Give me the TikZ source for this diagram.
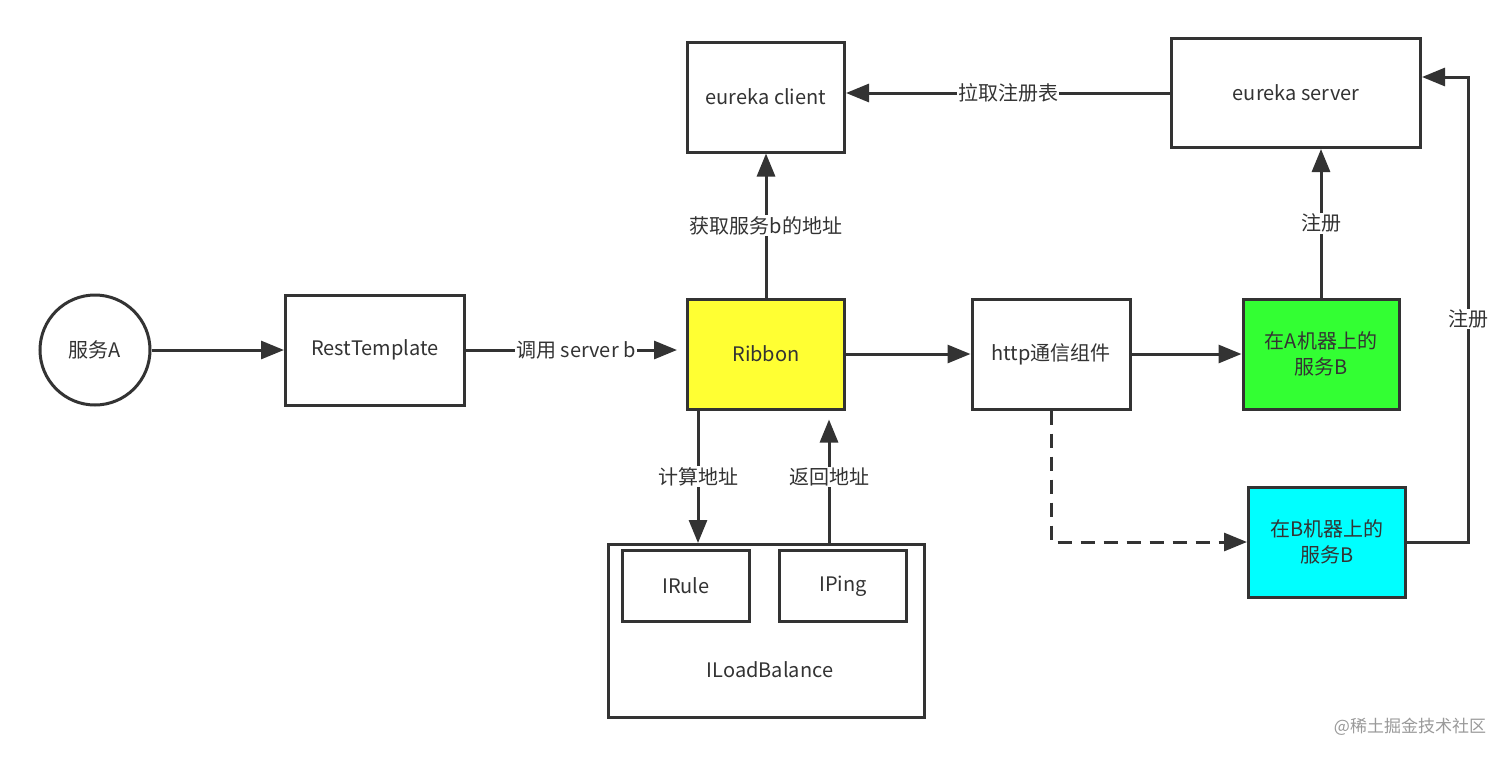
\documentclass[tikz,border=0pt]{standalone}
\usepackage{fontspec}
\setmainfont{Noto Sans CJK SC}
\usetikzlibrary{arrows.meta}
\definecolor{edgegray}{HTML}{333333}
\definecolor{ribyellow}{HTML}{FFFF33}
\definecolor{agreen}{HTML}{33FF33}
\definecolor{bcyan}{HTML}{00FFFF}

\begin{document}
\begin{tikzpicture}[x=1pt, y=-1pt,
  box/.style={draw=edgegray, line width=3pt, fill=white, inner sep=0pt,
    align=center, text=black!80, font=\fontsize{20}{26}\selectfont},
  link/.style={draw=edgegray, line width=3pt,
    -{Triangle[length=23pt, width=18pt]}},
  lbl/.style={fill=white, inner sep=1pt, text=black!80,
    font=\fontsize{20}{24}\selectfont}]
  \useasboundingbox (0,0) rectangle (1512,758);

  % nodes
  \node[box, circle, minimum size=110pt] (svcA) at (95,350) {服务A};
  \node[box, minimum width=179pt, minimum height=110pt] (rest) at (375,350) {RestTemplate};
  \node[box, fill=ribyellow, minimum width=157pt, minimum height=110pt] (rib) at (766,354) {Ribbon};
  \node[box, minimum width=157pt, minimum height=110pt] (cli) at (766,97) {eureka client};
  \node[box, minimum width=249pt, minimum height=109pt] (srv) at (1296,93) {eureka server};
  \node[box, minimum width=158pt, minimum height=110pt] (http) at (1051,354) {http通信组件};
  \node[box, fill=agreen, minimum width=156pt, minimum height=110pt] (asvc) at (1321,354) {在A机器上的\\服务B};
  \node[box, fill=bcyan, minimum width=157pt, minimum height=110pt] (bsvc) at (1327,542) {在B机器上的\\服务B};

  % ILoadBalance
  \node[box, minimum width=316pt, minimum height=173pt] (lb) at (766,631) {};
  \node[text=black!80, font=\fontsize{20}{24}\selectfont] (lbname) at (770,670) {ILoadBalance};
  \node[box, minimum width=127pt, minimum height=71pt] (irule) at (686,586) {IRule};
  \node[box, minimum width=127pt, minimum height=71pt] (iping) at (843,586) {IPing};

  % connectors
  \draw[link] (svcA) -- (rest);
  \draw[link, shorten >=9pt] (rest.east) -- node[lbl] {调用 server b} (rest.east -| rib.west);
  \draw[link] (rib) -- (http);
  \draw[link] (http) -- (asvc);
  \draw[link] (rib.north) -- node[lbl] {获取服务b的地址} (cli.south);
  \draw[link] (srv.west) -- node[lbl] {拉取注册表} (srv.west -| cli.east);
  \draw[link] (asvc.north) -- node[lbl] {注册} (asvc.north |- srv.south);

  \coordinate (reg) at (1468,77);
  \draw[link] (bsvc.east) -- (bsvc.east -| reg) -- node[lbl, pos=0.48] {注册} (reg) -- (reg -| srv.east);

  \coordinate (calc) at ([xshift=12pt]rib.south west);
  \coordinate (ret) at ([xshift=-17pt]rib.south east);
  \draw[link] (calc) -- node[lbl] {计算地址} (calc |- lb.north);
  \draw[link, shorten >=9pt] (ret |- lb.north) -- node[lbl] {返回地址} (ret);

  \draw[link, dash pattern=on 14pt off 9pt] (http.south) -- (http.south |- bsvc.west) -- (bsvc.west);

  % watermark
  \node[text=black!40, font=\fontsize{17}{20}\selectfont] (mark) at (1410,727) {@稀土掘金技术社区};
\end{tikzpicture}
\end{document}
